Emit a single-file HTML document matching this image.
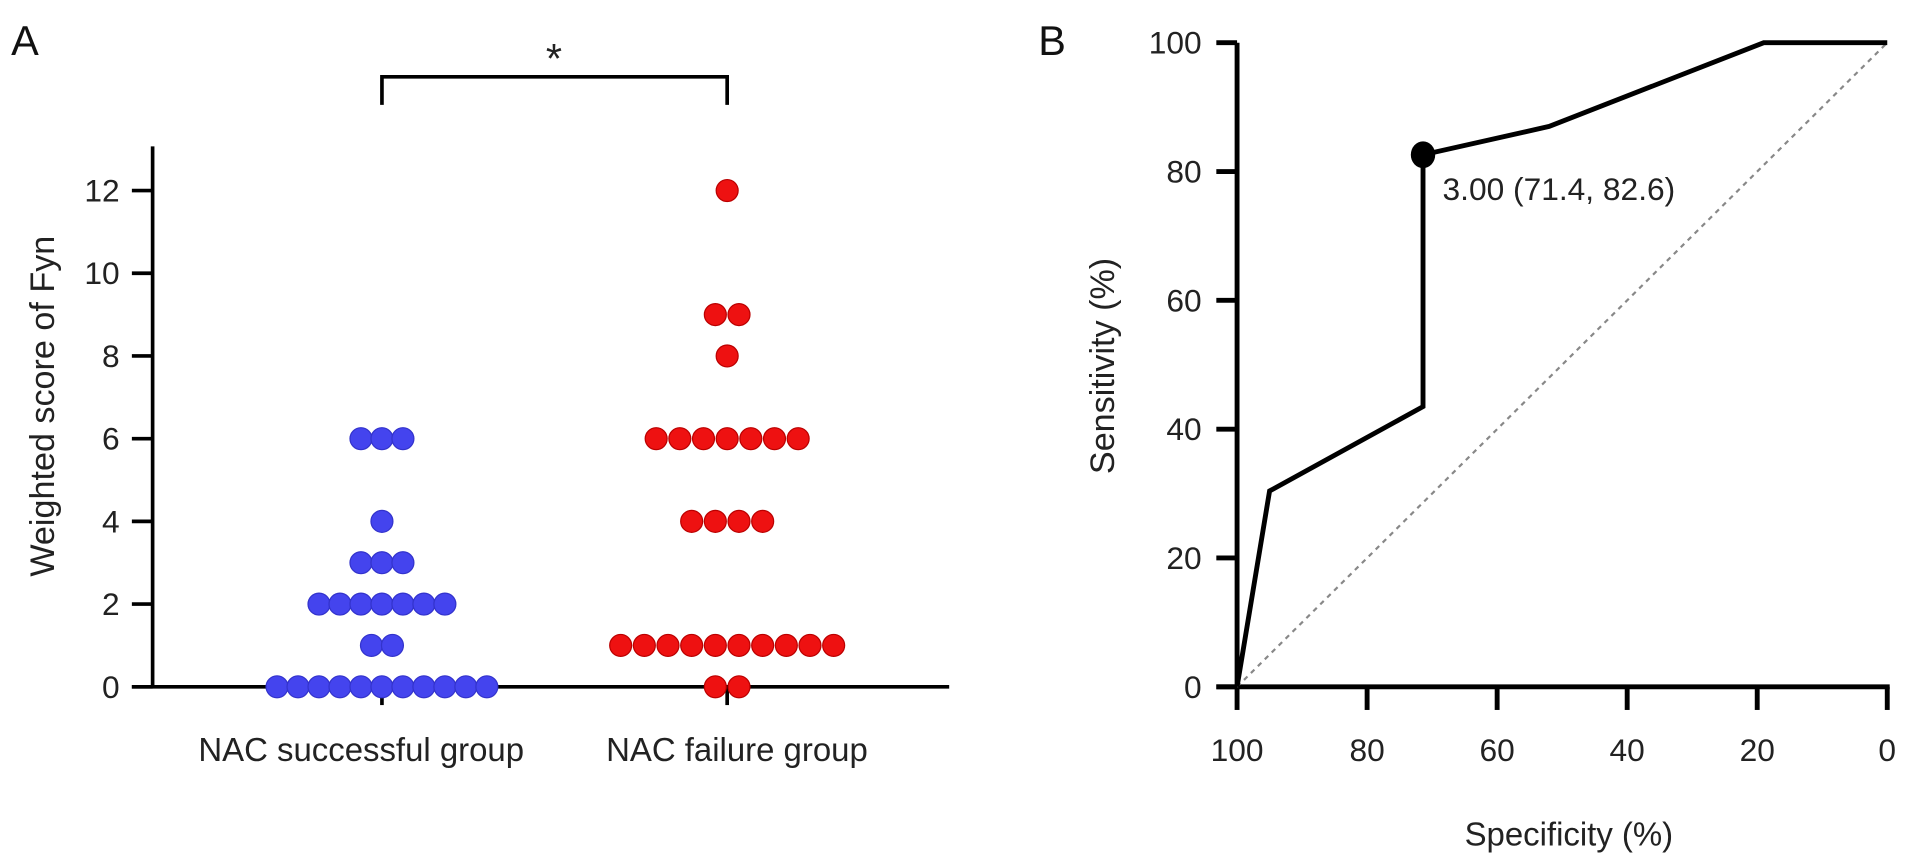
<!DOCTYPE html>
<html><head><meta charset="utf-8"><style>
html,body{margin:0;padding:0;background:#fff;}
svg{display:block;font-family:"Liberation Sans",Arial,sans-serif;}
</style></head><body>
<svg id="fig" width="1913" height="860" viewBox="0 0 1568 705">
<g id="panelA"></g>
<g id="panelB"></g>
</svg>
<script>
// Panel A data
const groupNames = ["NAC successful group", "NAC failure group"];
const blueLevels = [0, 1, 2, 3, 4, 6];
const blueCounts = [11, 2, 7, 3, 1, 3];
const redLevels = [0, 1, 4, 6, 8, 9, 12];
const redCounts = [2, 10, 4, 7, 1, 2, 1];
const yTicksA = [0, 2, 4, 6, 8, 10, 12];
// Panel B data
const rocSpec = [100, 95, 71.4, 71.4, 52, 19, 0];
const rocSens = [0, 30.4, 43.5, 82.6, 87, 100, 100];
const cutSpec = [71.4];
const cutSens = [82.6];
const ticksB = [0, 20, 40, 60, 80, 100];

const NS = "http://www.w3.org/2000/svg";
function mk(parent, tag, attrs, text) {
  const e = document.createElementNS(NS, tag);
  for (const k in attrs) e.setAttribute(k, attrs[k]);
  if (text !== undefined) e.textContent = text;
  parent.appendChild(e);
  return e;
}
const A = document.getElementById('panelA');
const B = document.getElementById('panelB');

// ---------- Panel A ----------
const yA = v => 563 - v * 33.9;
const xGroup = [313, 596];
const labelShift = [-17, 8];
let t = mk(A, 'text', {x: 9, y: 45, 'font-size': 34, fill: '#111'}, 'A');


let ax = mk(A, 'line', {x1: 125, y1: 120, x2: 125, y2: 563, stroke: '#000', 'stroke-width': 3});


ax = mk(A, 'line', {x1: 108, y1: 563, x2: 778, y2: 563, stroke: '#000', 'stroke-width': 3});


yTicksA.forEach(v => {
  const l = mk(A, 'line', {x1: 108, y1: yA(v), x2: 125, y2: yA(v), stroke: '#000', 'stroke-width': 3});
  
  
  const tx = mk(A, 'text', {x: 98, y: yA(v) + 9, 'font-size': 26, 'text-anchor': 'end', fill: '#222'}, String(v));
  
  
});
xGroup.forEach((x, i) => {
  const l = mk(A, 'line', {x1: x, y1: 563, x2: x, y2: 578, stroke: '#000', 'stroke-width': 3});
  
  
  const tx = mk(A, 'text', {x: x + labelShift[i], y: 624, 'font-size': 27, 'text-anchor': 'middle', fill: '#222'}, groupNames[i]);
  
  
});
t = mk(A, 'text', {x: 0, y: 0, 'font-size': 28, 'text-anchor': 'middle', fill: '#222', transform: 'translate(44,333) rotate(-90)'}, 'Weighted score of Fyn');


const br = mk(A, 'path', {d: `M${xGroup[0]},86 V63 H${xGroup[1]} V86`, fill: 'none', stroke: '#000', 'stroke-width': 3});


t = mk(A, 'text', {x: 454, y: 60, 'font-size': 34, 'text-anchor': 'middle', fill: '#222'}, '*');


function dots(levels, counts, cx, sp, fill, stroke, name) {
  levels.forEach((v, i) => {
    const n = counts[i];
    for (let k = 0; k < n; k++) {
      const x = cx + (k - (n - 1) / 2) * sp;
      const c = mk(A, 'circle', {cx: x, cy: yA(v), r: 9, fill: fill, stroke: stroke, 'stroke-width': 1});
      
      
    }
  });
}
dots(blueLevels, blueCounts, xGroup[0], 17.2, '#4444ee', '#3333cc', 'success-point');
dots(redLevels, redCounts, xGroup[1], 19.4, '#ee1111', '#bb0000', 'failure-point');

// ---------- Panel B ----------
const xB = s => 1014 + (100 - s) * 5.33;
const yB = v => 563 - v * 5.28;
t = mk(B, 'text', {x: 851, y: 45, 'font-size': 34, fill: '#111'}, 'B');


ax = mk(B, 'line', {x1: 1014, y1: 35, x2: 1014, y2: 563, stroke: '#000', 'stroke-width': 4});


ax = mk(B, 'line', {x1: 997, y1: 563, x2: 1549, y2: 563, stroke: '#000', 'stroke-width': 4});


ticksB.forEach(v => {
  let l = mk(B, 'line', {x1: 997, y1: yB(v), x2: 1014, y2: yB(v), stroke: '#000', 'stroke-width': 4});
  
  
  let tx = mk(B, 'text', {x: 985, y: yB(v) + 9, 'font-size': 26, 'text-anchor': 'end', fill: '#222'}, String(v));
  
  
  l = mk(B, 'line', {x1: xB(v), y1: 563, x2: xB(v), y2: 582, stroke: '#000', 'stroke-width': 4});
  
  
  tx = mk(B, 'text', {x: xB(v), y: 624, 'font-size': 26, 'text-anchor': 'middle', fill: '#222'}, String(v));
  
  
});
t = mk(B, 'text', {x: 0, y: 0, 'font-size': 28, 'text-anchor': 'middle', fill: '#222', transform: 'translate(913,300) rotate(-90)'}, 'Sensitivity (%)');


t = mk(B, 'text', {x: 1286, y: 693, 'font-size': 27, 'text-anchor': 'middle', fill: '#222'}, 'Specificity (%)');


const ref = mk(B, 'line', {x1: xB(100), y1: yB(0), x2: xB(0), y2: yB(100), stroke: '#888', 'stroke-width': 1.8, 'stroke-dasharray': '4,4'});


const pts = rocSpec.map((s, i) => xB(s) + ',' + yB(rocSens[i])).join(' ');
const roc = mk(B, 'polyline', {points: pts, fill: 'none', stroke: '#000', 'stroke-width': 4, 'stroke-linejoin': 'miter'});


const cp = mk(B, 'ellipse', {cx: xB(cutSpec[0]), cy: yB(cutSens[0]), rx: 10, ry: 11, fill: '#000'});


t = mk(B, 'text', {x: xB(cutSpec[0]) + 16, y: yB(cutSens[0]) + 37, 'font-size': 26, fill: '#222'}, '3.00 (71.4, 82.6)');


</script>
</body></html>
